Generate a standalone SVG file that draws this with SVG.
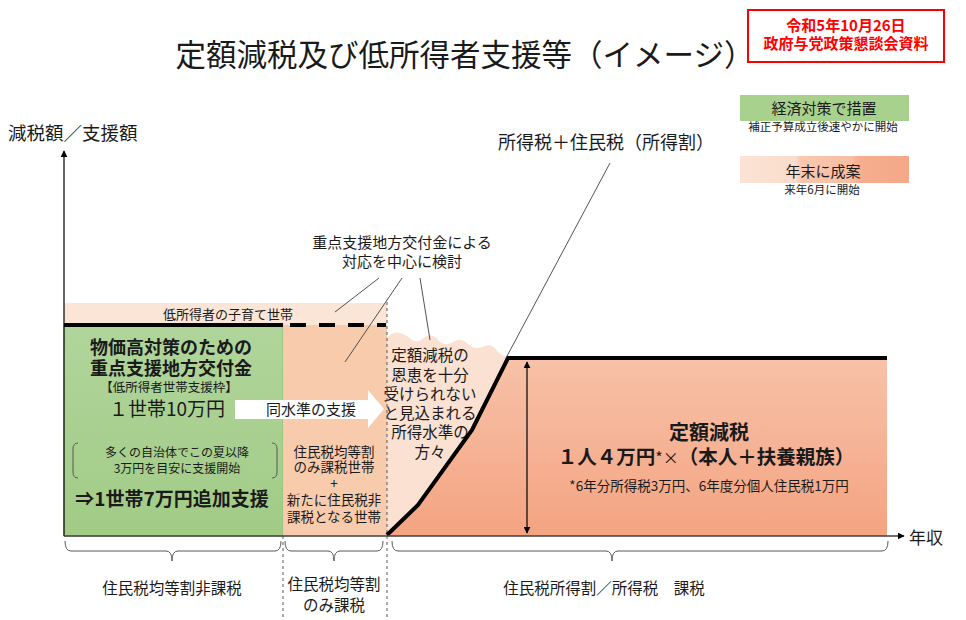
<svg xmlns="http://www.w3.org/2000/svg" width="966" height="620" viewBox="0 0 966 620">
<defs>
<style>
text{font-family:"Noto Sans CJK JP","Noto Sans",sans-serif;fill:#1a1a1a}
.c{text-anchor:middle}
.b{font-weight:bold}
.lead{stroke:#404040;stroke-width:0.9;fill:none}
.brace{stroke:#595959;stroke-width:1;fill:none}
.dash{stroke:#595959;stroke-width:1;stroke-dasharray:3 3;fill:none}
</style>
<linearGradient id="gGreen" x1="0" y1="0" x2="0" y2="1">
<stop offset="0" stop-color="#b0d59b"/><stop offset="1" stop-color="#a2cb86"/>
</linearGradient>
<linearGradient id="gSalmon" x1="0" y1="0" x2="0" y2="1">
<stop offset="0" stop-color="#f7c1a8"/><stop offset="1" stop-color="#f4a481"/>
</linearGradient>
<linearGradient id="gLegend" x1="0" y1="0" x2="1" y2="0">
<stop offset="0" stop-color="#fbe3d5"/><stop offset="0.33" stop-color="#fadccb"/><stop offset="0.36" stop-color="#f8c7ae"/><stop offset="0.66" stop-color="#f7bea3"/><stop offset="0.7" stop-color="#f5ae8f"/><stop offset="1" stop-color="#f4a888"/>
</linearGradient>
<marker id="ah" viewBox="0 0 10 10" refX="9" refY="5" markerWidth="7" markerHeight="7" orient="auto-start-reverse" markerUnits="userSpaceOnUse">
<path d="M0,0 L10,5 L0,10 Z" fill="#000"/>
</marker>
</defs>

<g id="title">
<text class="c" x="465" y="66" font-size="30.5">定額減税及び低所得者支援等（イメージ）</text>
</g>

<g id="stamp">
<rect x="748" y="10" width="196" height="52" fill="#fff" stroke="#ff0000" stroke-width="2"/>
<text class="c b" x="846" y="31" font-size="15" style="fill:#ff0000">令和5年10月26日</text>
<text class="c b" x="846" y="49" font-size="15" style="fill:#ff0000">政府与党政策懇談会資料</text>
</g>

<g id="legend-green">
<rect x="740" y="95" width="169" height="26" fill="#a9d18e"/>
<text class="c" x="824" y="114" font-size="15">経済対策で措置</text>
<text class="c" x="823" y="131" font-size="11.5">補正予算成立後速やかに開始</text>
</g>

<g id="legend-pink">
<rect x="740" y="156" width="169" height="27" fill="url(#gLegend)"/>
<text class="c" x="823" y="177" font-size="15">年末に成案</text>
<text class="c" x="822" y="194" font-size="11.5">来年6月に開始</text>
</g>

<g id="axis-labels">
<text x="8" y="140" font-size="18.5">減税額／支援額</text>
<text x="909" y="544" font-size="17">年収</text>
</g>

<g id="band-child">
<rect x="64" y="303" width="323" height="22" fill="#fbe5d6"/>
<text class="c" x="228" y="319" font-size="13">低所得者の子育て世帯</text>
</g>

<g id="green-block">
<rect x="64" y="325" width="219" height="211" fill="url(#gGreen)" stroke="#8fbf70" stroke-width="1"/>
<text class="c b" x="171" y="354" font-size="18">物価高対策のための</text>
<text class="c b" x="171" y="375" font-size="18">重点支援地方交付金</text>
<text class="c" x="169" y="392" font-size="12.5">【低所得者世帯支援枠】</text>
<text class="c" x="167" y="416" font-size="19">１世帯10万円</text>
<path class="brace" d="M78,443 Q73,443 73,449 L73,472 Q73,478 78,478"/>
<path class="brace" d="M272,443 Q277,443 277,449 L277,472 Q277,478 272,478"/>
<text class="c" x="177" y="457" font-size="12">多くの自治体でこの夏以降</text>
<text class="c" x="177" y="473" font-size="12">3万円を目安に支援開始</text>
<text class="c b" x="172" y="506" font-size="19">⇒1世帯7万円追加支援</text>
</g>

<g id="peach-block">
<rect x="283" y="325" width="104" height="211" fill="#f8cbad"/>
<text class="c" x="334" y="457" font-size="13.5">住民税均等割</text>
<text class="c" x="334" y="472" font-size="13.5">のみ課税世帯</text>
<text class="c" x="334" y="488" font-size="13.5">+</text>
<text class="c" x="334" y="505" font-size="13.5">新たに住民税非</text>
<text class="c" x="334" y="522" font-size="13.5">課税となる世帯</text>
</g>

<g id="same-level-arrow">
<path d="M235,400 L368,400 L368,390 L384,409 L368,428 L368,419 L235,419 Z" fill="#ffffff"/>
<text class="c" x="311" y="415" font-size="15">同水準の支援</text>
</g>

<g id="reduction-block">
<path d="M387,535 L418,505 L472,430 L508,358 L887,358 L887,536 L387,536 Z" fill="url(#gSalmon)"/>
<text class="c b" x="709" y="440" font-size="20">定額減税</text>
<text class="c b" x="706" y="464" font-size="19.5">１人４万円<tspan font-weight="normal" font-size="16">*×</tspan>（本人＋扶養親族）</text>
<text class="c" x="709" y="491" font-size="13.5">*6年分所得税3万円、6年度分個人住民税1万円</text>
</g>

<g id="insufficient-area">
<path d="M387,338 Q393,331 400,333 Q407,335 412,340 Q418,344 425,337 Q432,332 440,342 Q447,347 455,341 Q462,337 470,346 Q477,350 485,346 Q492,343 497,351 Q502,356 507,357 L472,430 L418,505 L387,535 Z" fill="#fbe1d2"/>
<text class="c" x="430" y="361" font-size="15.5">定額減税の</text>
<text class="c" x="430" y="381" font-size="15.5">恩恵を十分</text>
<text class="c" x="430" y="400" font-size="15.5">受けられない</text>
<text class="c" x="430" y="419" font-size="15.5">と見込まれる</text>
<text class="c" x="430" y="438" font-size="15.5">所得水準の</text>
<text class="c" x="430" y="458" font-size="15.5">方々</text>
</g>

<g id="annotations">
<text class="c" x="402" y="248" font-size="15">重点支援地方交付金による</text>
<text class="c" x="402" y="267" font-size="15">対応を中心に検討</text>
<text class="c" x="606" y="149" font-size="18">所得税＋住民税（所得割）</text>
</g>

<g id="bottom-labels">
<path class="brace" d="M65,541 Q65,551 71,551 L166,551 Q172,551 172,561 Q172,551 178,551 L275,551 Q281,551 281,541"/>
<path class="brace" d="M285,541 Q285,551 291,551 L328,551 Q334,551 334,561 Q334,551 340,551 L377,551 Q383,551 383,541"/>
<path class="brace" d="M392,541 Q392,551 398,551 L606,551 Q612,551 612,561 Q612,551 618,551 L882,551 Q888,551 888,541"/>
<text class="c" x="172" y="594" font-size="15.5">住民税均等割非課税</text>
<text class="c" x="334" y="590" font-size="15.5">住民税均等割</text>
<text class="c" x="334" y="611" font-size="15.5">のみ課税</text>
<text class="c" x="604" y="594" font-size="15.5">住民税所得割／所得税　課税</text>
</g>

<g id="connectors">
<line class="dash" x1="387" y1="302" x2="387" y2="620"/>
<line class="dash" x1="283" y1="536" x2="283" y2="620"/>
<line x1="64" y1="325" x2="283" y2="325" stroke="#000" stroke-width="4"/>
<line x1="290" y1="325" x2="386" y2="325" stroke="#000" stroke-width="4" stroke-dasharray="16 13"/>
<path d="M387,535 L418,505 L472,430 L508,358 L887,358" fill="none" stroke="#000" stroke-width="4" stroke-linejoin="miter"/>
<line x1="64" y1="536" x2="64" y2="151" stroke="#000" stroke-width="1.2" marker-end="url(#ah)"/>
<line x1="64" y1="536" x2="904" y2="536" stroke="#404040" stroke-width="1.5" marker-end="url(#ah)"/>
<line x1="527" y1="362" x2="527" y2="533" stroke="#000" stroke-width="1.2" marker-start="url(#ah)" marker-end="url(#ah)"/>
<line class="lead" x1="379" y1="278" x2="335" y2="312"/>
<line class="lead" x1="402" y1="278" x2="345" y2="362"/>
<line class="lead" x1="420" y1="278" x2="430" y2="340"/>
<line class="lead" x1="610" y1="163" x2="506" y2="358"/>
</g>
</svg>
